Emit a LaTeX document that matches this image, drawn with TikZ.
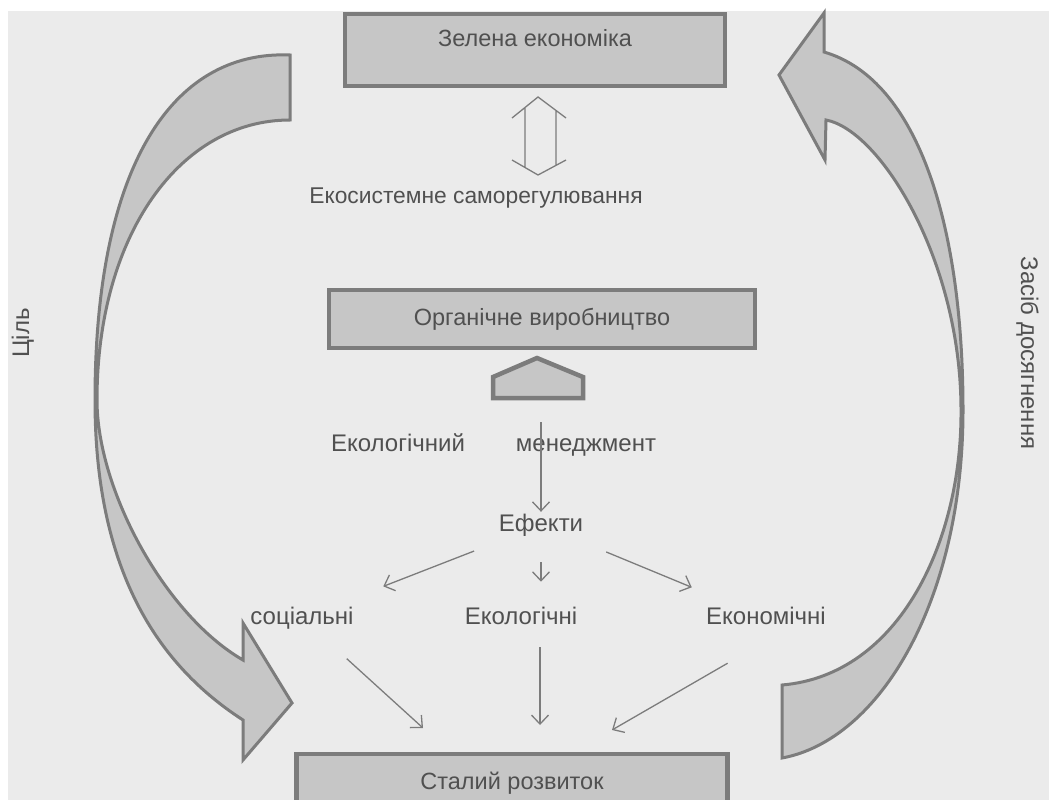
\documentclass[tikz,border=0pt]{standalone}
\usepackage{fontspec}
\setmainfont{Liberation Sans}
\usetikzlibrary{arrows.meta,calc}
\definecolor{boxfill}{HTML}{C6C6C6}
\definecolor{boxline}{HTML}{7C7C7C}
\definecolor{inkgray}{HTML}{505050}
\definecolor{paper}{HTML}{EBEBEB}
\begin{document}
\begin{tikzpicture}[x=1pt,y=-1pt,
box_style/.style={draw=boxline,fill=boxfill,line width=4.5pt,minimum width=380pt,minimum height=72pt,inner sep=0pt,text=inkgray,font=\fontsize{23.5}{28}\selectfont},
label_style/.style={text=inkgray,inner sep=2pt,text height=17pt,text depth=5pt,font=\fontsize{24}{28}\selectfont},
edge_style/.style={draw=boxline,line width=1.3pt,-{Straight Barb[length=9pt,width=17pt]}},
dbl_style/.style={draw=boxline,line width=1.3pt},
band_style/.style={draw=boxline,fill=boxfill,line width=3pt,line join=miter}]
\fill[white] (0,0) rectangle (1049,800);
\fill[paper] (8,11) rectangle (1049,800);
\useasboundingbox (0,0) rectangle (1049,800);

\draw[band_style] (290,55) .. controls (170,50) and (95,170) .. (95,400) .. controls (95,560) and (150,660) .. (243,720) -- (243,760) -- (292,703) -- (243,623) -- (243,660) .. controls (165,615) and (97,490) .. (97,400) .. controls (97,235) and (180,120) .. (290,120) -- cycle;
\draw[band_style] (782,758) .. controls (880,740) and (963,600) .. (963,410) .. controls (963,230) and (920,80) .. (824,52) -- (824,13) -- (779,75) -- (825,160) -- (826,120) .. controls (880,130) and (961,260) .. (961,410) .. controls (962,540) and (900,675) .. (782,685) -- cycle;

\node[box_style,text height=17pt,text depth=24pt] (green) at (535,50) {Зелена економіка};
\node[box_style,minimum width=426pt,minimum height=58pt] (prod) at (542,319) {Органічне виробництво};
\node[box_style,minimum width=431pt,minimum height=58pt] (stal) at (512,783) {Сталий розвиток};
\node[label_style,font=\fontsize{22.8}{28}\selectfont] (ecosys) at (476,197) {Екосистемне саморегулювання};
\node[label_style] (ecol) at (398,445) {Екологічний};
\node[label_style] (mgmt) at (586,445) {менеджмент};
\node[label_style] (eff) at (541,525) {Ефекти};
\node[label_style] (soc) at (302,618) {соціальні};
\node[label_style] (eco) at (521,618) {Екологічні};
\node[label_style] (econ) at (766,618) {Економічні};
\node[label_style,rotate=90] (goal) at (23,333) {Ціль};
\node[label_style,rotate=-90] (means) at (1027,353) {Засіб досягнення};
\coordinate (mgmt_top) at (541,422);
\coordinate (tip_s) at (423,728);
\coordinate (tip_c) at (540,725);
\coordinate (tip_e) at (612,730);

\draw[dbl_style] (512,118) -- (538,97) -- (566,118) (525,107.5) -- (525,167.5) (556,110.5) -- (556,165.4) (512,160) -- (538,175) -- (566,160);
\draw[box_style] (493,398) -- (493,377) -- (537,358) -- (583,377) -- (583,398) -- cycle;

\draw[edge_style] (mgmt_top) -- (eff);
\draw[edge_style] ($(eff)!0.28!(soc)$) -- ($(eff)!0.66!(soc)$);
\draw[edge_style] ($(eff)!0.40!(eff |- eco)$) -- ($(eff)!0.61!(eff |- eco)$);
\draw[edge_style] ($(eff)!0.29!(econ)$) -- ($(eff)!0.67!(econ)$);
\draw[edge_style] ($(soc)!0.37!(tip_s)$) -- (tip_s);
\draw[edge_style] (tip_c |- eco.south) ++(0,16) -- (tip_c);
\draw[edge_style,shorten <=64pt] ([xshift=17pt]econ.south) -- (tip_e);
\end{tikzpicture}
\end{document}
